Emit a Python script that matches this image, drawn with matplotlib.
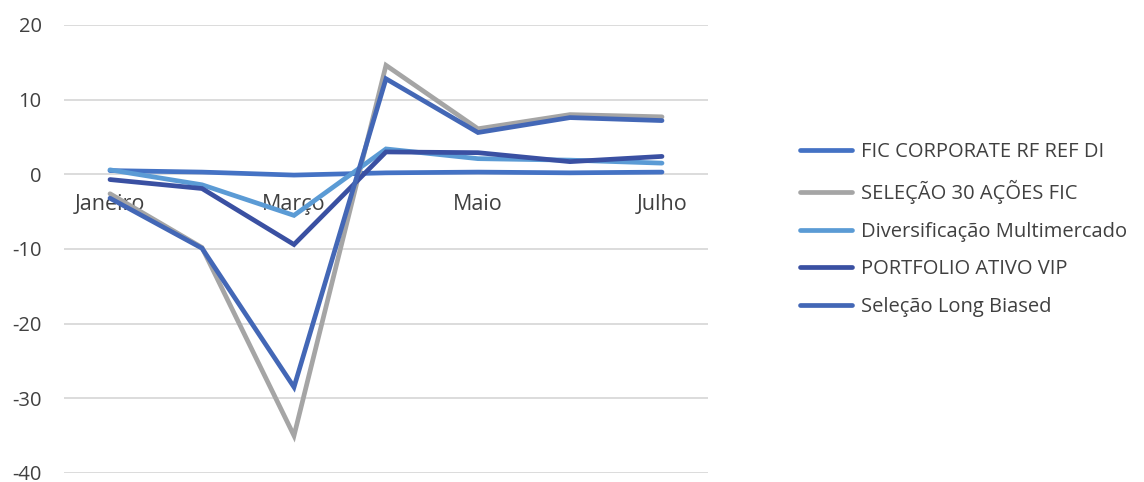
import matplotlib
matplotlib.use("Agg")
import matplotlib.pyplot as plt

months = ["Janeiro", "Fevereiro", "Março", "Abril", "Maio", "Junho", "Julho"]
shown_labels = ["Janeiro", "", "Março", "", "Maio", "", "Julho"]

fic_corporate = [0.5, 0.3, -0.1, 0.2, 0.3, 0.2, 0.3]
selecao30 = [-2.6, -9.8, -35.0, 14.6, 6.1, 8.0, 7.7]
diversificacao = [0.6, -1.4, -5.5, 3.4, 2.1, 1.9, 1.5]
portfolio_vip = [-0.7, -1.9, -9.4, 3.0, 2.9, 1.7, 2.4]
long_biased = [-3.2, -9.9, -28.5, 12.8, 5.6, 7.6, 7.2]

series = [
    ("FIC CORPORATE RF REF DI", fic_corporate, "#4472C4"),
    ("SELEÇÃO 30 AÇÕES FIC", selecao30, "#A5A5A5"),
    ("Diversificação Multimercado", diversificacao, "#5B9BD5"),
    ("PORTFOLIO ATIVO VIP", portfolio_vip, "#3A50A2"),
    ("Seleção Long Biased", long_biased, "#4367B6"),
]

plt.rcParams['font.family'] = ['Open Sans', 'DejaVu Sans']
plt.rcParams['axes.unicode_minus'] = False

fig = plt.figure(figsize=(11.44, 4.82), dpi=100)
ax = fig.add_axes([64/1144, 9/482, 644/1144, 448/482])

x = list(range(len(months)))
for name, vals, col in series:
    ax.plot(x, vals, color=col, lw=3.4, label=name, solid_capstyle='round', solid_joinstyle='miter')

ax.set_xlim(-0.5, len(months) - 0.5)
ax.set_ylim(-40, 20)
ax.set_yticks([20, 10, 0, -10, -20, -30, -40])
ax.yaxis.grid(True, color="#D9D9D9", lw=1.3)
ax.set_axisbelow(True)
for s in ax.spines.values():
    s.set_visible(False)
ax.tick_params(axis='y', length=0, pad=16, labelsize=14.5, labelcolor="#404040")

ax.spines['bottom'].set_position(('data', 0))
ax.set_xticks(x)
ax.set_xticklabels(shown_labels)
ax.tick_params(axis='x', length=0, pad=14, labelsize=15.5, labelcolor="#404040")

leg = fig.legend(loc='upper left', bbox_to_anchor=(782/1144, 1 - 124/482), frameon=False,
                 fontsize=14.5, labelspacing=0.88, handlelength=2.6, handletextpad=0.4,
                 labelcolor="#404040")
for line in leg.get_lines():
    line.set_linewidth(3.4)

fig.savefig("out.png", dpi=100)
